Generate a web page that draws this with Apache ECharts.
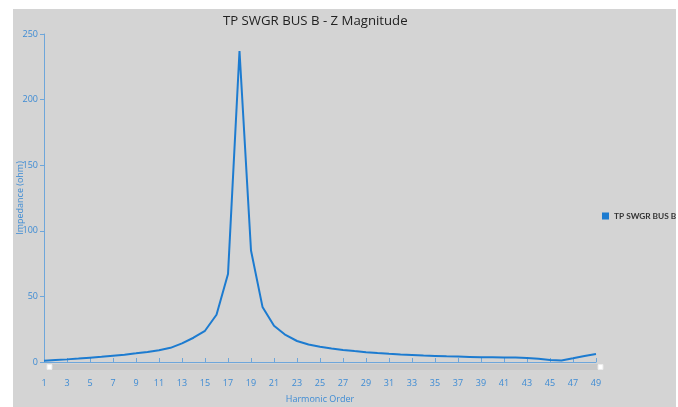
<!DOCTYPE html>
<html><head><meta charset="utf-8">
<script src="https://cdn.jsdelivr.net/npm/echarts@6/dist/echarts.min.js"></script>
<style>html,body{margin:0;padding:0;background:#fff;}#c{width:678px;height:407px;}</style>
</head><body><div id="c"></div>
<script>
const harmonics = ['1','2','3','4','5','6','7','8','9','10','11','12','13','14','15','16','17','18','19','20','21','22','23','24','25','26','27','28','29','30','31','32','33','34','35','36','37','38','39','40','41','42','43','44','45','46','47','48','49'];
const impedance = [1.0,1.5,2.0,2.6,3.3,4.0,4.8,5.6,6.6,7.7,9.0,10.8,14.2,18.5,23.8,36,67,237,85,42,27.6,20.6,16,13.3,11.6,10.3,9.2,8.3,7.5,6.8,6.2,5.7,5.3,4.9,4.6,4.3,4.1,3.9,3.7,3.6,3.5,3.4,3.1,2.4,1.5,1.2,2.8,4.5,6.1];
const seriesName = 'TP SWGR BUS B';
const titleText = 'TP SWGR BUS B - Z Magnitude';
const yTicks = {min:0, max:250, interval:50};

const blue = '#1c7bd0';
const labelBlue = '#3d8bd4';
const font = 'Open Sans, Noto Sans, sans-serif';
const chart = echarts.init(document.getElementById('c'), null, {renderer:'canvas'});
chart.setOption({
  backgroundColor: '#d4d4d4',
  animation: false,
  graphic: [
    {type:'rect', shape:{x:0,y:0,width:678,height:9}, style:{fill:'#fff'}, silent:true},
    {type:'rect', shape:{x:0,y:0,width:13,height:407}, style:{fill:'#fff'}, silent:true},
    {type:'rect', shape:{x:676,y:0,width:2,height:407}, style:{fill:'#fff'}, silent:true}
  ],
  title: {text: titleText, left: 218, top: 10, textStyle:{fontFamily:font, fontSize:13.2, fontWeight:'normal', color:'#222'}},
  legend: {data:[seriesName], orient:'vertical', left:597, top:207, icon:'rect', itemWidth:7, itemHeight:7, itemGap:5,
    textStyle:{fontFamily:'Lato, sans-serif', fontSize:8.3, fontWeight:'bold', color:'#333', overflow:'none'}},
  grid: {left:44, right:82, top:34, bottom:45, containLabel:false, outerBoundsMode:'none'},
  xAxis: {type:'category', data: harmonics, boundaryGap:false, offset:11,
    name:'Harmonic Order', nameLocation:'middle', nameGap:22, nameMoveOverlap:false,
    nameTextStyle:{fontFamily:font, fontSize:9, color:labelBlue},
    axisLine:{lineStyle:{color:'#6ea6da', width:1}},
    axisTick:{inside:true, length:4, interval:1, lineStyle:{color:'#6ea6da'}},
    axisLabel:{interval:1, fontFamily:font, fontSize:9, color:labelBlue, margin:6},
    splitLine:{show:false}},
  yAxis: {type:'value', min:yTicks.min, max:yTicks.max, interval:yTicks.interval,
    name:'Impedance (ohm)', nameLocation:'middle', nameGap:19, nameMoveOverlap:false,
    nameTextStyle:{fontFamily:font, fontSize:9, color:labelBlue},
    axisLine:{show:true, lineStyle:{color:'#6ea6da', width:1}},
    axisTick:{show:true, length:4, lineStyle:{color:'#6ea6da'}},
    axisLabel:{fontFamily:font, fontSize:9, color:labelBlue, margin:6},
    splitLine:{show:false}},
  dataZoom: [{type:'slider', xAxisIndex:0, start:0, end:100, left:47, right:78, bottom:37, height:6,
    showDetail:false, showDataShadow:false, brushSelect:false, moveHandleSize:0,
    backgroundColor:'#c9c9c9', borderColor:'transparent', fillerColor:'rgba(200,200,200,0.3)',
    handleIcon:'path://M0,0 L10,0 L10,10 L0,10 Z', handleSize:'80%',
    handleStyle:{color:'#fff', borderColor:'#eee'},
    dataBackground:{lineStyle:{opacity:0}, areaStyle:{opacity:0}}}],
  series: [{name:seriesName, type:'line', data: impedance, showSymbol:false, symbol:'none',
    lineStyle:{color:blue, width:2}, itemStyle:{color:blue}}]
});
</script></body></html>
